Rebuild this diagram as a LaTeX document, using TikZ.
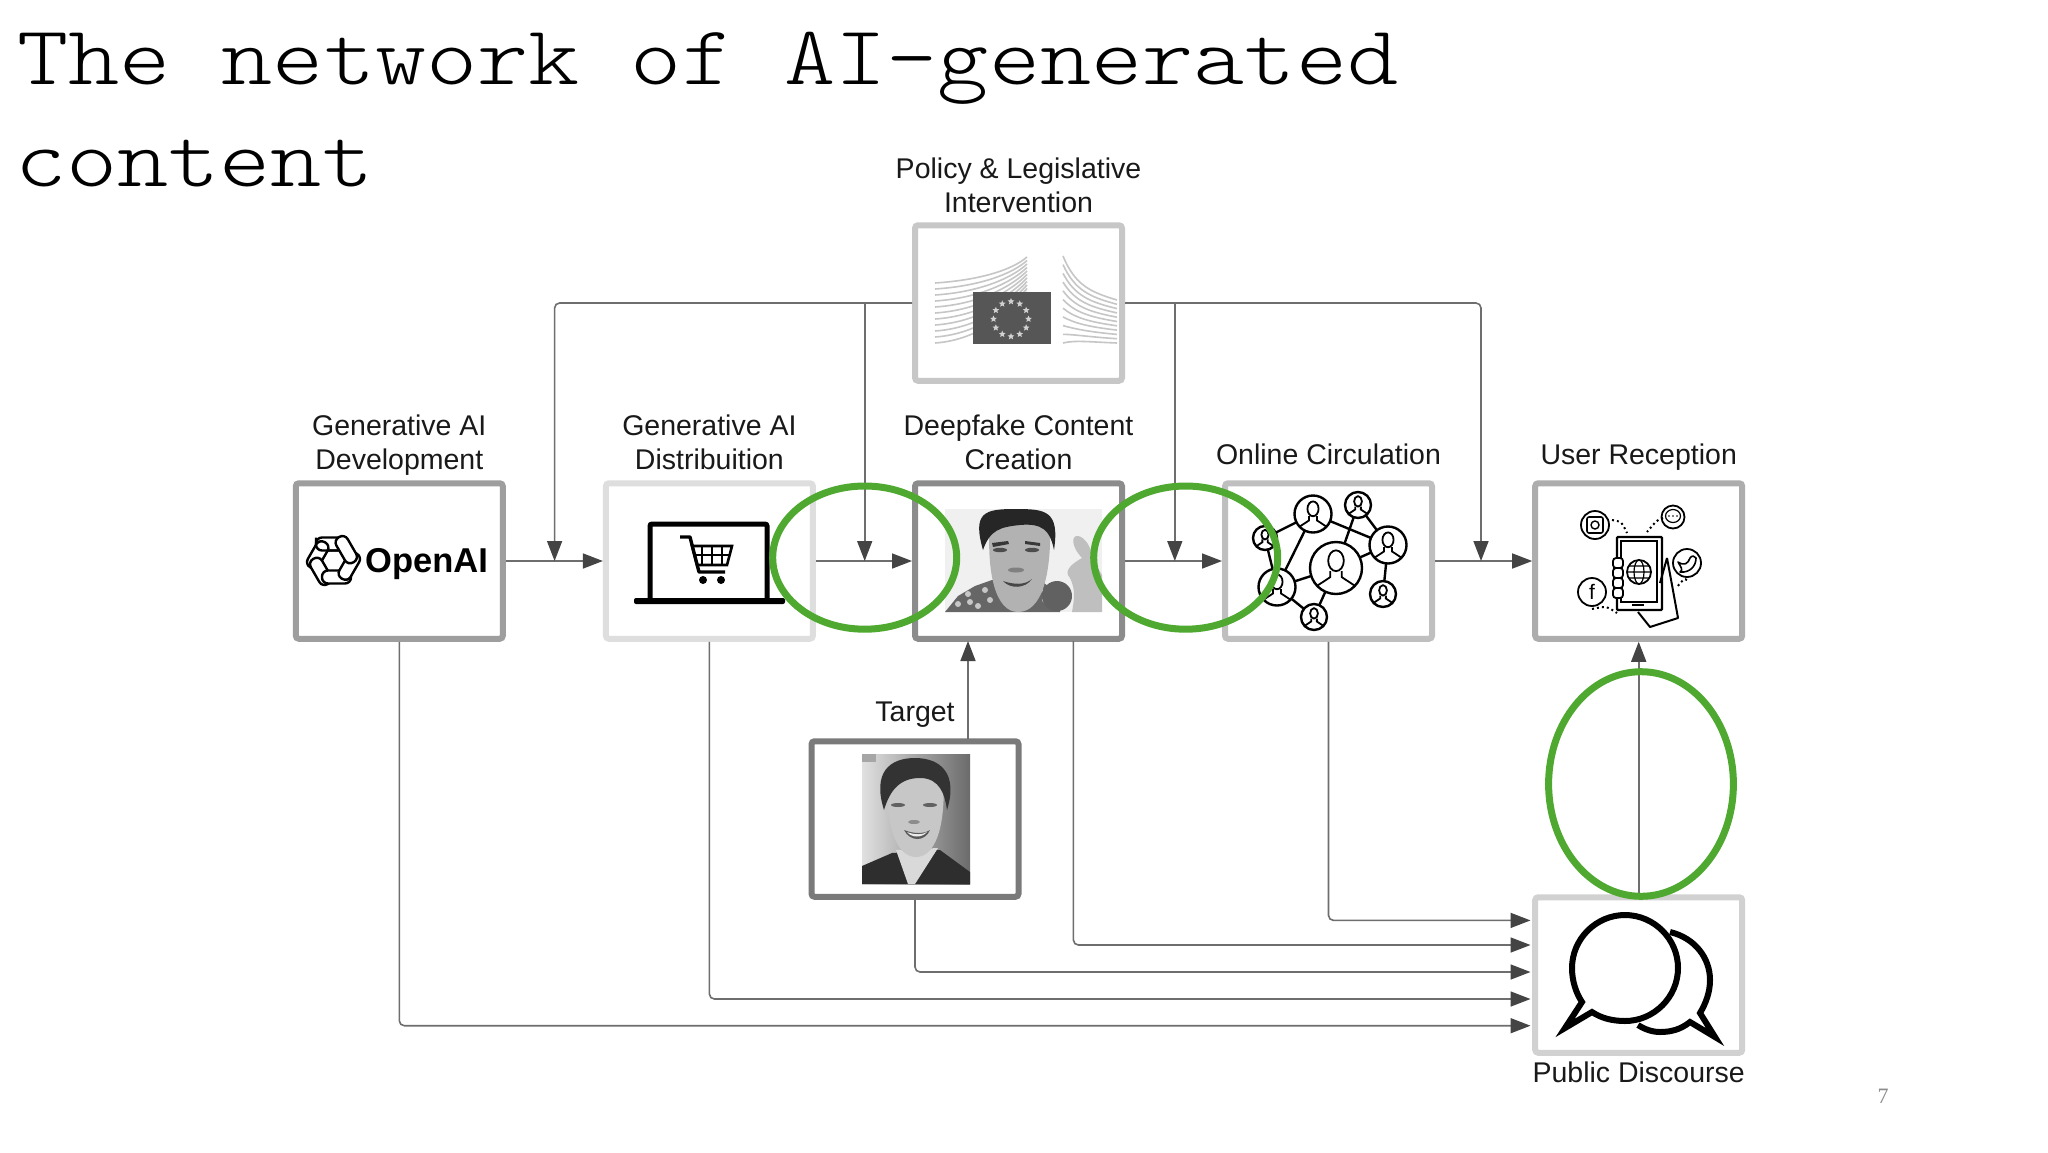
\documentclass[tikz,border=0pt]{standalone}
\usepackage{fontspec}
\setmainfont{Liberation Sans}
\setmonofont[FakeStretch=1.16]{Latin Modern Mono Light}
\newfontfamily\slidenum{Liberation Serif}
\usetikzlibrary{arrows.meta,shapes.geometric}
\definecolor{flowgray}{HTML}{6E6E6E}
\definecolor{tipgray}{HTML}{444444}
\definecolor{ringgreen}{HTML}{4FA82F}
\definecolor{flagblue}{HTML}{565656}
\definecolor{wallgray}{HTML}{C6C6C6}
\tikzset{
	stagebox/.style = {draw = #1, line width = 6pt, fill = white, rounded corners = 3pt,
			minimum width = 207pt, minimum height = 155.5pt, inner sep = 0pt},
	stagetext/.style = {font = \fontsize{28.5}{34}\selectfont, align = center, text = black!90, anchor = base},
	flowline/.style = {draw = flowgray, line width = 1.6pt, rounded corners = 5pt,
			-{Triangle[length = 20pt, width = 15pt, color = tipgray]}},
	ring/.style = {draw = ringgreen, line width = 7pt},
	iconline/.style = {draw = black, line width = 2.4pt},
	peer/.style = {draw = black, circle, line width = 2.4pt, inner sep = 0pt, fill = white},
}
\newcommand{\peerlist}{pa/1313/514/18.5,pb/1358/505/13,pc/1265/538/12,pd/1388/545/18.5,pe/1336/568/26,pf/1277/587/18.5,pg/1383/594/13,ph/1314/617/13}
\begin{document}
\begin{tikzpicture}[x = 1pt, y = -1pt]
	\useasboundingbox [fill = white] (0,0) rectangle (2048,1152);

	% title
	\node [anchor = base west, inner sep = 0pt] (titleone) at (17,84) {\fontsize{84}{84}\selectfont\ttfamily The network of AI-generated};
	\node [anchor = base west, inner sep = 0pt] (titletwo) at (15,186) {\fontsize{84}{84}\selectfont\ttfamily content};

	% boxes
	\node [stagebox = black!38] (openai) at (399.3,561) {};
	\node [stagebox = black!13] (dist) at (709.4,561) {};
	\node [stagebox = black!45] (deep) at (1018.5,561) {};
	\node [stagebox = black!25] (online) at (1328.5,561) {};
	\node [stagebox = black!32] (user) at (1638.7,561) {};
	\node [stagebox = black!22] (policy) at (1018.5,303) {};
	\node [stagebox = black!52] (target) at (915,819) {};
	\node [stagebox = black!18] (public) at (1638.7,975) {};

	% labels
	\node [stagetext] (policylabel) at (1018.5,212) {Policy \& Legislative\\Intervention};
	\node [stagetext] (openailabel) at (399.3,469) {Generative AI\\Development};
	\node [stagetext] (distlabel) at (709.4,469) {Generative AI\\Distribuition};
	\node [stagetext] (deeplabel) at (1018.5,469) {Deepfake Content\\Creation};
	\node [stagetext] (onlinelabel) at (1328.5,464) {Online Circulation};
	\node [stagetext] (userlabel) at (1638.7,464) {User Reception};
	\node [stagetext] (targetlabel) at (915,721) {Target};
	\node [stagetext] (publiclabel) at (1638.7,1082) {Public Discourse};
	\node [text = black!45, font = \fontsize{22}{22}\selectfont\slidenum] (pagenum) at (1883,1096) {7};

	% free ends of the connectors
	\coordinate (dropa) at (554.6,561);
	\coordinate (dropb) at (864.7,561);
	\coordinate (dropc) at (1174.8,561);
	\coordinate (dropd) at (1481,561);
	\coordinate (tapb) at (864.7,303);
	\coordinate (tapc) at (1174.8,303);
	\coordinate (targetup) at (968,739);
	\coordinate (deepin) at (968,641);
	\coordinate (deepout) at (1073.4,641);
	\coordinate (pubone) at (1530.5,920.4);
	\coordinate (pubtwo) at (1530.5,945);
	\coordinate (pubthree) at (1530.5,972);
	\coordinate (pubfour) at (1530.5,999);
	\coordinate (pubfive) at (1530.5,1025.7);

	% connectors
	\foreach \from/\to in {openai/dist,dist/deep,deep/online,online/user}{
			\draw [flowline] (\from.east) -- (\to.west);
		}
	\foreach \from/\to in {tapb/dropb,tapc/dropc,targetup/deepin}{
			\draw [flowline] (\from) -- (\to);
		}
	\draw [flowline] (policy.west) -| (dropa);
	\draw [flowline] (policy.east) -| (dropd);
	\draw [flowline] (public.north) -- (user.south);
	\foreach \from/\to in {online.south/pubone,deepout/pubtwo,target.south/pubthree,dist.south/pubfour,openai.south/pubfive}{
			\draw [flowline] (\from) |- (\to);
		}

	% openai logo
	\foreach \a in {0,60,...,300}{
			\draw [line width = 2.4pt, fill = white, rotate around = {\a:(333.5,560.5)}, rounded corners = 6pt]
			(316,537.5) rectangle (345,550.5);
		}
	\draw [line width = 2.4pt, rounded corners = 6pt] (316,537.5) -- (316,550.5) -- (338,550.5);
	\node [anchor = west, inner sep = 0pt, font = \fontsize{34.5}{34}\selectfont\bfseries] (openaitext) at (365,564) {OpenAI};

	% laptop and cart
	\draw [line width = 5pt, rounded corners = 2pt] (650,600) -- (650,524) -- (767,524) -- (767,600);
	\fill [rounded corners = 2pt] (634,598) rectangle (785,604);
	\draw [line width = 3.4pt, line join = round] (680,537) -- (690,537) -- (699,572) -- (725,572);
	\draw [line width = 2.6pt] (692,546) -- (732,546) -- (727,565) -- (697,565) -- cycle;
	\foreach \x in {702,712,722}{
			\draw [line width = 2.6pt] (\x,546) -- (\x,565);
		}
	\draw [line width = 2.6pt] (694,555) -- (730,555);
	\fill (703,580) circle (4) (721,580) circle (4);

	% building and flag
	\foreach \k in {0,...,10}{
			\draw [wallgray, line width = 1.6pt] (935,283+6*\k) .. controls (980,280+6*\k) and (1012,270+4*\k) .. (1027,257+3.5*\k);
			\draw [wallgray, line width = 1.6pt] (1063,256+8.7*\k) .. controls (1075,285+5.5*\k) and (1090,292+5*\k) .. (1117,300+4.3*\k);
		}
	\fill [flagblue] (973,292) rectangle (1051,344);
	\foreach \a in {0,30,...,330}{
			\node [star, star points = 5, star point ratio = 2.2, fill = black!18, inner sep = 0pt, minimum size = 7pt] (flagstar\a) at ({1011+17.5*cos(\a)},{319+17.5*sin(\a)}) {};
		}

	% deepfake photo
	\fill [black!6] (945,509) rectangle (1102,612);
	\fill [black!60] (945,612) -- (958,596) -- (975,586) -- (992,580) -- (1040,580) -- (1060,595) -- (1060,612) -- cycle;
	\foreach \x/\y in {958/604,968/594,978/606,985/590,990/600,970/602,1045/600,1040/590}{
			\fill [black!22] (\x,\y) circle (3);
		}
	\fill [black!30] (990,518) .. controls (986,575) and (996,612) .. (1018,612) .. controls (1042,612) and (1052,575) .. (1050,518) -- cycle;
	\fill [black!85] (983,550) .. controls (972,512) and (985,509) .. (1015,509) .. controls (1045,509) and (1060,510) .. (1054,550) .. controls (1050,530) and (1042,523) .. (1020,525) .. controls (1000,527) and (990,530) .. (983,550) -- cycle;
	\fill [black!78] (992,543) -- (1008,541) -- (1009,544) -- (993,547) -- cycle (1025,541) -- (1040,543) -- (1040,546) -- (1025,544) -- cycle;
	\fill [black!70] (1000,550) ellipse (7 and 2.2) (1032,550) ellipse (7 and 2.2);
	\fill [black!50] (1016,570) ellipse (8 and 2.5);
	\fill [black!72] (1003,581) .. controls (1015,585) and (1025,585) .. (1032,579) .. controls (1025,589) and (1010,589) .. (1003,581) -- cycle;
	\fill [black!62] (1057,596) circle (15);
	\fill [black!25] (1070,578) .. controls (1062,570) and (1075,562) .. (1082,558) .. controls (1070,545) and (1072,535) .. (1078,536) .. controls (1085,537) and (1092,548) .. (1092,558) -- (1102,575) -- (1102,612) -- (1072,612) .. controls (1074,600) and (1076,590) .. (1070,578) -- cycle;

	% target photo
	\shade [left color = black!12, right color = black!58] (862,754) rectangle (970,884);
	\fill [black!35] (862,754) rectangle (876,762);
	\fill [black!82] (862,884) -- (862,866) -- (892,853) -- (940,850) -- (970,872) -- (970,884) -- cycle;
	\fill [black!15] (896,850) -- (908,884) -- (915,884) -- (938,848) -- cycle;
	\fill [black!22] (888,770) .. controls (884,830) and (898,857) .. (916,857) .. controls (934,857) and (947,830) .. (943,770) -- cycle;
	\fill [black!80] (884,810) .. controls (872,772) and (890,758) .. (915,758) .. controls (942,758) and (958,775) .. (947,810) .. controls (945,795) and (940,778) .. (920,778) .. controls (900,778) and (890,790) .. (884,810) -- cycle;
	\fill [black!62] (898,805) ellipse (7 and 2) (930,805) ellipse (7 and 2);
	\fill [black!45] (914,822) ellipse (6 and 2);
	\fill [black!65] (904,830) .. controls (914,834) and (924,834) .. (930,830) .. controls (925,842) and (910,842) .. (904,830) -- cycle;
	\fill [black!8] (907,832) .. controls (915,835) and (922,835) .. (927,832) .. controls (922,838) and (912,838) .. (907,832) -- cycle;

	% network of people
	\foreach \n/\x/\y/\r in \peerlist{
			\coordinate (\n) at (\x,\y);
		}
	\foreach \from/\to in {pa/pc,pa/pf,pa/pd,pb/pe,pb/pd,pd/pe,pd/pg,pe/pf,pe/ph,pf/ph,pc/pf}{
			\draw [iconline] (\from) -- (\to);
		}
	\foreach \n/\x/\y/\r in \peerlist{
			\node [peer, minimum size = {2*\r pt}] (\n ring) at (\x,\y) {};
			\draw [line width = 1.8pt] (\x,\y-0.28*\r) ellipse ({0.3*\r} and {0.4*\r});
			\draw [line width = 1.8pt] (\x-0.22*\r,\y+0.12*\r) -- (\x-0.22*\r,\y+0.35*\r) -- (\x-0.72*\r,\y+0.68*\r);
			\draw [line width = 1.8pt] (\x+0.22*\r,\y+0.12*\r) -- (\x+0.22*\r,\y+0.35*\r) -- (\x+0.72*\r,\y+0.68*\r);
		}

	% phone and social icons
	\draw [line width = 2.4pt, rounded corners = 1pt] (1617,537) rectangle (1662,610);
	\draw [line width = 1.2pt] (1621,541) rectangle (1657,602);
	\draw [line width = 1.8pt] (1639,572) circle (12);
	\draw [line width = 1.2pt] (1639,572) ellipse (5 and 12) (1627,572) -- (1651,572) (1629,566) -- (1649,566) (1629,578) -- (1649,578);
	\foreach \y in {563,573,583,593}{
			\draw [line width = 1.8pt, fill = white, rounded corners = 3pt] (1613,\y-5) rectangle (1623,\y+5);
		}
	\draw [line width = 2pt, line join = round] (1667,558) -- (1660,583) (1667,558) -- (1672,585) -- (1678,618) -- (1650,627) -- (1638,612);
	\draw [line width = 2pt] (1632,605) -- (1644,605);
	\draw [line width = 1.8pt] (1595,525) circle (14) (1673,517) circle (11.5) (1687,563) circle (14) (1592,592) circle (14);
	\draw [line width = 1.6pt, rounded corners = 2pt] (1587,517) rectangle (1603,533);
	\draw [line width = 1.4pt] (1595,525) circle (4);
	\draw [line width = 1.2pt] (1673,516) ellipse (7.5 and 6.5);
	\fill (1669,516) circle (0.9) (1673,516) circle (0.9) (1677,516) circle (0.9);
	\draw [line width = 1.6pt, line join = round] (1678,562) .. controls (1684,566) and (1688,564) .. (1690,558) .. controls (1692,555) and (1695,556) .. (1696,558) .. controls (1696,566) and (1690,573) .. (1680,572) .. controls (1684,570) and (1680,566) .. (1678,562) -- cycle;
	\node [inner sep = 0pt, font = \fontsize{21}{21}\selectfont] (fglyph) at (1592,592) {f};
	\foreach \p/\q/\r/\s in {1612/520/1627/533,1663/518/1647/532,1592/609/1617/613,1687/580/1677/587}{
			\draw [line width = 2pt, dash pattern = on 2pt off 3pt] (\p,\q) .. controls ({(\p+\r)/2+2},{(\q+\s)/2-5}) .. (\r,\s);
		}

	% speech bubbles
	\draw [line width = 6pt, line join = miter] (1670,932) .. controls (1695,938) and (1710,958) .. (1710,980) .. controls (1710,992) and (1706,1003) .. (1700,1013) -- (1715,1037) -- (1690,1022) .. controls (1680,1030) and (1670,1032) .. (1660,1032) .. controls (1652,1032) and (1644,1029) .. (1638,1025);
	\draw [line width = 6pt, fill = white, line join = miter] (1592,1012) .. controls (1601,1018) and (1612,1021) .. (1625,1021) .. controls (1654,1021) and (1678,997) .. (1678,968) .. controls (1678,939) and (1654,915) .. (1625,915) .. controls (1596,915) and (1572,939) .. (1572,968) .. controls (1572,981) and (1576,993) .. (1582,1002) -- (1565,1028) -- cycle;

	% green rings
	\draw [ring] (864.7,557.6) ellipse (92 and 71.6);
	\draw [ring] (1185.7,557.6) ellipse (92 and 71.6);
	\draw [ring] (1641,784) ellipse (92.4 and 112.3);
\end{tikzpicture}
\end{document}
